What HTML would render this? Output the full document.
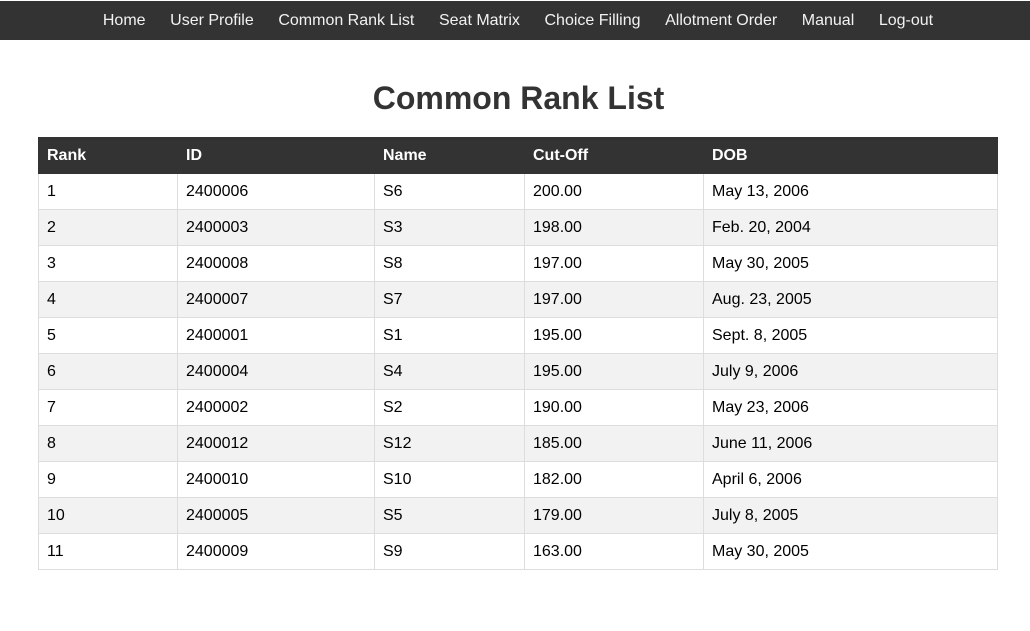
<!DOCTYPE html>
<html><head><meta charset="utf-8"><style>
*{box-sizing:border-box}
body{margin:0;width:1030px;height:630px;background:#fff;font-family:"Liberation Sans",Arial,sans-serif;color:#000;overflow:hidden}
nav{height:39px;background:#333;display:flex;justify-content:center;align-items:center;padding-left:6px;margin-top:1px}
nav a{color:#f2f2f2;text-decoration:none;font-size:16px;padding:0 12.3px;line-height:39px}
h1{text-align:center;font-size:32px;margin:40px 0 20px;color:#333;line-height:37px;padding-left:7px}
table{border-collapse:collapse;margin-left:38px;width:960px;font-size:16px}
th{background:#333;color:#fff;text-align:left;height:36px;padding:0 8px;font-weight:bold;border:1px solid #333}
td{height:36px;padding:0 8px;border:1px solid #ddd}
tr:nth-child(even) td{background:#f2f2f2}
</style></head><body>
<nav>
<a href="#">Home</a>
<a href="#">User Profile</a>
<a href="#">Common Rank List</a>
<a href="#">Seat Matrix</a>
<a href="#">Choice Filling</a>
<a href="#">Allotment Order</a>
<a href="#">Manual</a>
<a href="#">Log-out</a>
</nav>
<h1>Common Rank List</h1>
<table>
<thead><tr>
<th style="width:139px">Rank</th><th style="width:197px">ID</th><th style="width:150px">Name</th><th style="width:179px">Cut-Off</th><th>DOB</th></tr></thead>
<tbody>
<tr><td>1</td><td>2400006</td><td>S6</td><td>200.00</td><td>May 13, 2006</td></tr>
<tr><td>2</td><td>2400003</td><td>S3</td><td>198.00</td><td>Feb. 20, 2004</td></tr>
<tr><td>3</td><td>2400008</td><td>S8</td><td>197.00</td><td>May 30, 2005</td></tr>
<tr><td>4</td><td>2400007</td><td>S7</td><td>197.00</td><td>Aug. 23, 2005</td></tr>
<tr><td>5</td><td>2400001</td><td>S1</td><td>195.00</td><td>Sept. 8, 2005</td></tr>
<tr><td>6</td><td>2400004</td><td>S4</td><td>195.00</td><td>July 9, 2006</td></tr>
<tr><td>7</td><td>2400002</td><td>S2</td><td>190.00</td><td>May 23, 2006</td></tr>
<tr><td>8</td><td>2400012</td><td>S12</td><td>185.00</td><td>June 11, 2006</td></tr>
<tr><td>9</td><td>2400010</td><td>S10</td><td>182.00</td><td>April 6, 2006</td></tr>
<tr><td>10</td><td>2400005</td><td>S5</td><td>179.00</td><td>July 8, 2005</td></tr>
<tr><td>11</td><td>2400009</td><td>S9</td><td>163.00</td><td>May 30, 2005</td></tr>
</tbody></table>
</body></html>
